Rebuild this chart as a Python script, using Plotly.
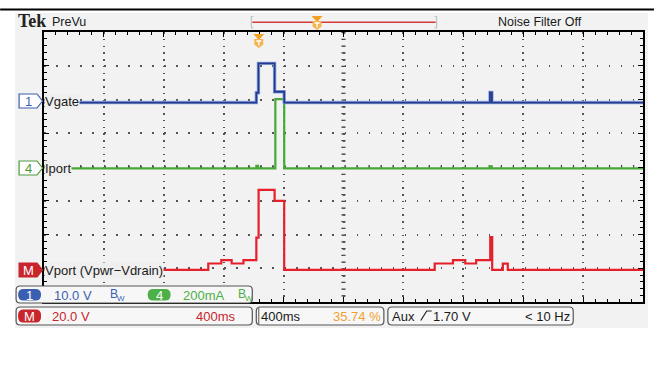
import plotly.graph_objects as go

TIME_PER_DIV_MS = 400          # horizontal scale
N_XDIV, N_YDIV = 10, 8

# Ch1 Vgate (V)
vgate_t = [0, 1418, 1432, 1540, 1604, 2978, 2991, 4000]
vgate_v = [0, 2.9, 11.6, 3.2, 0, 3.0, 0, 0]
vgate_scale, vgate_pos = 10.0, 1.91     # V/div, div

# Ch4 Iport (mA)
iport_t = [0, 1418, 1430, 1545, 1604, 2978, 2990, 4000]
iport_v = [0, 15, 0, 410, 0, 12, 0, 0]
iport_scale, iport_pos = 200.0, -0.04   # mA/div, div

# Math Vport = Vpwr - Vdrain (V)
vport_t = [0, 1097, 1184, 1253, 1332, 1418, 1433, 1540, 1604,
           2609, 2731, 2813, 2886, 2980, 2993, 3064, 3097, 4000]
vport_v = [0, 3.8, 5.8, 3.8, 5.8, 19.2, 47.4, 40.9, 0,
           3.8, 5.8, 3.8, 5.8, 19.4, 0, 3.7, 0, 0]
vport_scale, vport_pos = 20.0, -3.05    # V/div, div

# ---------------- geometry helpers (pixels -> paper) ----------------
W, H = 656, 376
L, R, T, B = 44, 11, 32, 74
PW, PH = W - L - R, H - T - B


def X(px):
    return (px - L) / PW


def Y(py):
    return (H - B - py) / PH


def rrect(x0, y0, x1, y1, r):
    return (f"M{X(x0 + r)},{Y(y0)} L{X(x1 - r)},{Y(y0)} Q{X(x1)},{Y(y0)} {X(x1)},{Y(y0 + r)} "
            f"L{X(x1)},{Y(y1 - r)} Q{X(x1)},{Y(y1)} {X(x1 - r)},{Y(y1)} L{X(x0 + r)},{Y(y1)} "
            f"Q{X(x0)},{Y(y1)} {X(x0)},{Y(y1 - r)} L{X(x0)},{Y(y0 + r)} Q{X(x0)},{Y(y0)} {X(x0 + r)},{Y(y0)} Z")


def poly(pts):
    return "M" + " L".join(f"{X(a)},{Y(b)}" for a, b in pts) + " Z"


def to_div(values, scale, pos):
    # vertical scope scaling: value -> graticule divisions
    return [v / scale + pos for v in values]


FONT = "Liberation Sans, Arial, sans-serif"
BLUE, GREEN, RED, ORANGE = "#3b5fb0", "#4aab3c", "#c8252d", "#f0a030"

fig = go.Figure()

fig.add_trace(go.Scatter(x=iport_t, y=to_div(iport_v, iport_scale, iport_pos), mode="lines",
                         line_shape="hv", line=dict(color="#48a838", width=2.2), hoverinfo="skip"))
fig.add_trace(go.Scatter(x=vgate_t, y=to_div(vgate_v, vgate_scale, vgate_pos), mode="lines",
                         line_shape="hv", line=dict(color="#8fa8dc", width=3.4), hoverinfo="skip"))
fig.add_trace(go.Scatter(x=vgate_t, y=to_div(vgate_v, vgate_scale, vgate_pos), mode="lines",
                         line_shape="hv", line=dict(color="#233a8e", width=1.8), hoverinfo="skip"))
fig.add_trace(go.Scatter(x=vport_t, y=to_div(vport_v, vport_scale, vport_pos), mode="lines",
                         line_shape="hv", line=dict(color="#e5202a", width=2.2), hoverinfo="skip"))

tickcommon = dict(ticks="inside", tickcolor="black", tickwidth=1, ticklen=5,
                  showticklabels=False, showline=True, linecolor="black", linewidth=2,
                  mirror="allticks", zeroline=False, showgrid=True, gridcolor="#555555",
                  gridwidth=1.5, fixedrange=True)

fig.update_layout(
    width=W, height=H, autosize=False,
    margin=dict(l=L, r=R, t=T, b=B, pad=0),
    paper_bgcolor="white", plot_bgcolor="white",
    showlegend=False,
    xaxis=dict(range=[0, N_XDIV * TIME_PER_DIV_MS], dtick=TIME_PER_DIV_MS, tick0=0,
               griddash="1.5px,5.25px",
               minor=dict(dtick=TIME_PER_DIV_MS / 5, ticks="inside", ticklen=3,
                          tickcolor="black", showgrid=False),
               **tickcommon),
    yaxis=dict(range=[-N_YDIV / 2, N_YDIV / 2], dtick=1, tick0=0,
               griddash="1.5px,10.52px",
               minor=dict(dtick=0.2, ticks="inside", ticklen=3,
                          tickcolor="black", showgrid=False),
               **tickcommon),
)

shapes = []
# screen background + top rule
shapes.append(dict(type="rect", xref="paper", yref="paper", x0=X(15), x1=X(650), y0=Y(13), y1=Y(328),
                   fillcolor="#f2f2f2", line_width=0, layer="below"))
shapes.append(dict(type="line", xref="paper", yref="paper", x0=X(0), x1=X(656), y0=Y(9.5), y1=Y(9.5),
                   line=dict(color="black", width=2)))
# centre cross marks
XC = N_XDIV / 2 * TIME_PER_DIV_MS
shapes.append(dict(type="line", xref="x", yref="y", x0=XC, x1=XC, y0=N_YDIV / 2, y1=-N_YDIV / 2,
                   line=dict(color="#333333", width=4, dash="1.2px,5.55px"), layer="below"))
shapes.append(dict(type="line", xref="x", yref="y", x0=0, x1=N_XDIV * TIME_PER_DIV_MS, y0=0, y1=0,
                   line=dict(color="#333333", width=4, dash="1.2px,10.82px"), layer="below"))

# top record bar
shapes.append(dict(type="line", xref="paper", yref="paper", x0=X(253), x1=X(437), y0=Y(22.3), y1=Y(22.3),
                   line=dict(color="#d03a3a", width=1.5)))
for bx, d in ((252, 2), (438, -2)):
    shapes.append(dict(type="path", xref="paper", yref="paper",
                       path=f"M{X(bx + d)},{Y(16.5)} L{X(bx)},{Y(16.5)} L{X(bx)},{Y(28)} L{X(bx + d)},{Y(28)}",
                       line=dict(color="#b8b8b8", width=1)))


def trig_marker(cx, ytop):
    return [dict(type="path", xref="paper", yref="paper",
                 path=poly([(cx - 5.5, ytop), (cx + 5.5, ytop), (cx, ytop + 6)]),
                 fillcolor="#f3a21f", line_width=0),
            dict(type="path", xref="paper", yref="paper",
                 path=poly([(cx - 4.5, ytop + 5), (cx + 4.5, ytop + 5), (cx + 4.5, ytop + 10.5),
                            (cx, ytop + 14), (cx - 4.5, ytop + 10.5)]),
                 fillcolor="#f7b350", line_width=0),
            dict(type="path", xref="paper", yref="paper",
                 path=f"M{X(cx - 2.5)},{Y(ytop + 7)} L{X(cx + 2.5)},{Y(ytop + 7)} M{X(cx)},{Y(ytop + 7)} L{X(cx)},{Y(ytop + 11.5)}",
                 line=dict(color="white", width=1.3))]


shapes += trig_marker(318, 16)
shapes += trig_marker(259.5, 34)

# channel markers on the left
for yc, col, fill in ((101, BLUE, "white"), (168, "#4a9a3a", "white"), (270, RED, RED)):
    shapes.append(dict(type="path", xref="paper", yref="paper",
                       path=poly([(19, yc - 7), (37, yc - 7), (42.5, yc), (37, yc + 7), (19, yc + 7)]),
                       fillcolor=fill, line=dict(color=col, width=1.2)))

# bottom readout boxes
for x0, y0, x1, y1 in ((16, 286, 253, 303), (16, 307, 253, 325), (257, 307, 385, 325), (389, 307, 575, 325)):
    shapes.append(dict(type="path", xref="paper", yref="paper", path=rrect(x0, y0, x1, y1, 4),
                       fillcolor="#f7f7f7", line=dict(color="#555555", width=1.2)))
shapes.append(dict(type="line", xref="paper", yref="paper", x0=X(259.5), x1=X(259.5), y0=Y(308), y1=Y(324),
                   line=dict(color="#555555", width=1)))
for x0, y0, x1, y1, col in ((18, 289, 41, 300.5, BLUE), (148, 289, 171, 300.5, "#4caf47"), (18, 309.5, 41, 322.5, RED)):
    shapes.append(dict(type="path", xref="paper", yref="paper", path=rrect(x0, y0, x1, y1, 5.5),
                       fillcolor=col, line_width=0))
# trigger slope symbol
shapes.append(dict(type="path", xref="paper", yref="paper",
                   path=f"M{X(422)},{Y(320.5)} L{X(428)},{Y(311)} L{X(433)},{Y(311)}",
                   line=dict(color="#222222", width=1.2)))

fig.update_layout(shapes=shapes)

ann = []


def txt(x, y, s, size=13, color="#1a1a1a", anchor="left", family=FONT, bg=None, bold=False):
    d = dict(xref="paper", yref="paper", x=X(x), y=Y(y), text=(f"<b>{s}</b>" if bold else s),
             showarrow=False, xanchor=anchor, yanchor="middle",
             font=dict(family=family, size=size, color=color), borderpad=0)
    if bg:
        d["bgcolor"] = bg
    ann.append(d)


txt(17, 21, "Tek", size=18, family="Liberation Serif, DejaVu Serif, serif", bold=True, color="#222222")
txt(51, 22, "PreVu", size=12.5)
txt(542, 22, "Noise Filter Off", size=12.5, anchor="center")

txt(28, 101, "1", size=13, color=BLUE, anchor="center")
txt(28, 168, "4", size=13, color="#4a9a3a", anchor="center")
txt(28, 270, "M", size=13, color="white", anchor="center")
txt(44.5, 101, "Vgate", size=13, bg="#efefef")
txt(44.5, 168, "Iport", size=13, bg="#efefef")
txt(44.5, 270, "Vport (Vpwr\u2212Vdrain)", size=13, bg="#efefef")

txt(29.5, 295, "1", size=13, color="white", anchor="center")
txt(53, 295, "10.0 V", size=13, color=BLUE)
txt(109, 294, "B", size=12, color=BLUE)
txt(116, 298, "W", size=8, color=BLUE)
txt(159.5, 295, "4", size=13, color="white", anchor="center")
txt(182, 295, "200mA", size=13, color="#4caf47")
txt(238, 294, "B", size=12, color="#4caf47")
txt(245, 298, "W", size=8, color="#4caf47")

txt(29.5, 316, "M", size=13, color="white", anchor="center")
txt(51, 316, "20.0 V", size=13, color=RED)
txt(238, 316, "400ms", size=13, color=RED, anchor="right")
txt(261, 316, "400ms", size=13)
txt(383, 316, "35.74 %", size=13, color=ORANGE, anchor="right")
txt(392, 316, "Aux", size=13)
txt(433, 316, "1.70 V", size=13)
txt(573, 316, "< 10 Hz", size=13, anchor="right")

fig.update_layout(annotations=ann)

fig.write_html("out.html", config={"displayModeBar": False},
               post_script="document.body.style.margin='0';document.body.style.overflow='hidden';")
